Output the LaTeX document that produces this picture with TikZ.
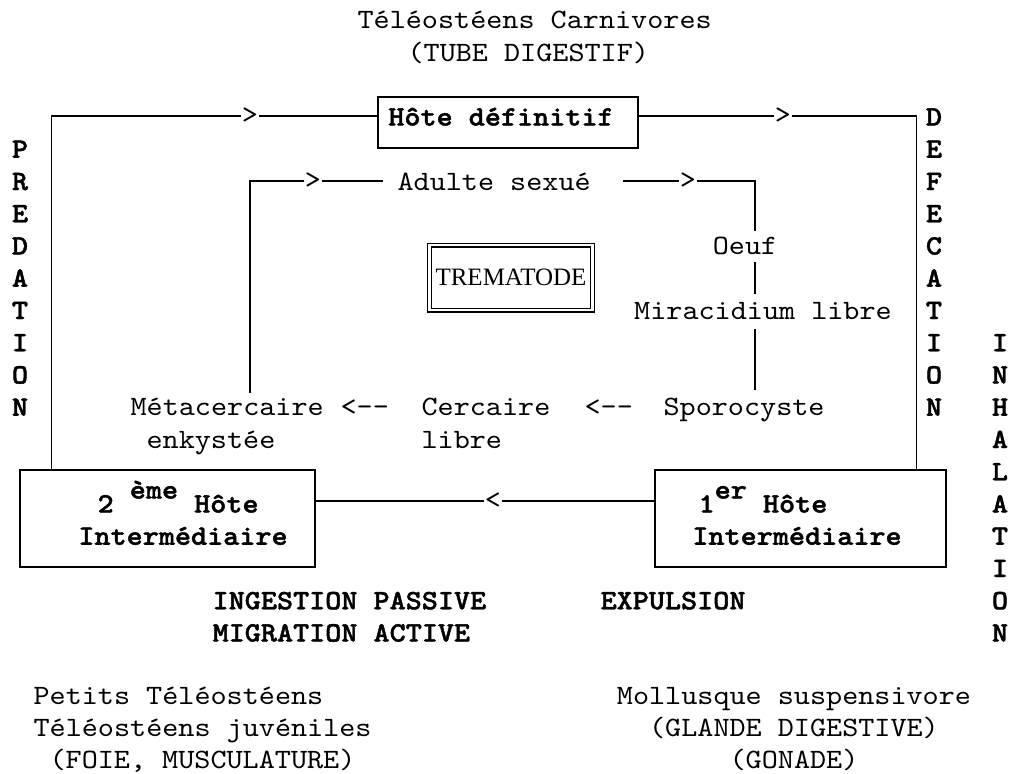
\documentclass[tikz,border=0pt]{standalone}
\usepackage{fontspec}
\setmainfont{lmmono10-regular.otf}[FakeStretch=1.095, BoldFont=lmmonolt10-bold.otf, BoldFeatures={FakeBold=1.5}]
\newfontfamily\trserif{Liberation Serif}
\newcommand\tw{\fontsize{28}{32.25}\selectfont}
\begin{document}
\begin{tikzpicture}[x=1pt,y=-1pt,line width=1.2pt,
  txt/.style={font=\tw,inner sep=0pt,anchor=base},
  btxt/.style={font=\tw\bfseries,inner sep=0pt,anchor=base},
  hostbox/.style={draw,line width=1.3pt,inner sep=0pt},
  chev/.style={font=\tw,inner sep=0pt},
  vl/.style={font=\tw\bfseries,inner sep=0pt,anchor=base}]
\useasboundingbox (0,0) rectangle (1013,774);

% vertical words
\foreach \l [count=\i] in {P,R,E,D,A,T,I,O,N}
  \node[vl] (pr\i) at (20,{125.5+32.25*\i}) {\l};
\foreach \l [count=\i from 0] in {D,E,F,E,C,A,T,I,O,N}
  \node[vl] (de\i) at (934,{125.5+32.25*\i}) {\l};
\foreach \l [count=\i from 7] in {I,N,H,A,L,A,T,I,O,N}
  \node[vl] (in\i) at (1000,{125.5+32.25*\i}) {\l};

% titles
\node[txt,anchor=base west] (t1) at (357,28.75) {Téléostéens Carnivores};
\node[txt,anchor=base west] (t2) at (407,61) {(TUBE DIGESTIF)};

% definitive host
\node[hostbox,minimum width=260pt,minimum height=51pt] (hd) at (508,122.5) {};
\node[btxt] (hdt) at (501,125.5) {Hôte définitif};

% inner cycle
\node[txt,anchor=base west] (ad) at (397,190) {Adulte sexué};
\node[draw,double,double distance=2.8pt,line width=1.1pt,minimum width=163pt,
      minimum height=65pt,inner sep=0pt,font=\trserif\fontsize{25}{28}\selectfont]
      (tr) at (511,277.5) {TREMATODE};
\node[txt] (oe) at (745,254.5) {Oeuf};
\node[txt] (mi) at (763,319) {Miracidium libre};
\node[txt,anchor=base west] (sp) at (663,415.75) {Sporocyste};
\node[txt,anchor=base west] (a2) at (584,415.75) {<-{}-};
\node[txt,anchor=base west] (ce) at (421,415.75) {Cercaire};
\node[txt,anchor=base west] (li) at (421,448) {libre};
\node[txt,anchor=base west] (a1) at (340,415.75) {<-{}-};
\node[txt,anchor=base west] (me) at (130,415.75) {Métacercaire};
\node[txt,anchor=base west] (en) at (146,448) {enkystée};

% intermediate hosts
\node[hostbox,minimum width=295pt,minimum height=97pt] (h2) at (167.5,518.5) {};
\node[btxt,anchor=base west] (h2a) at (97,512.5) {2 \raisebox{14pt}{ème} Hôte};
\node[btxt] (h2b) at (183,544.75) {Intermédiaire};
\node[hostbox,minimum width=291pt,minimum height=97pt] (h1) at (800.5,518.5) {};
\node[btxt,anchor=base west] (h1a) at (698,512.5) {1\raisebox{14pt}{er} Hôte};
\node[btxt] (h1b) at (797,544.75) {Intermédiaire};

% connectors
\coordinate (xl) at (250,0);
\coordinate (xr) at (755,0);
\node[chev] (c1) at (250,116) {>};
\draw ([yshift=6.5pt]hd.west) -- (c1.east);
\draw (c1.west) -| ([xshift=32pt]h2.north west);
\node[chev] (c2) at (783,116) {>};
\draw ([yshift=6.5pt]hd.east) -- (c2.west);
\draw (c2.east) -| ([xshift=-30pt]h1.north east);
\node[chev] (c3) at (313,181) {>};
\draw ([xshift=-14pt]ad.west |- c3) -- (c3.east);
\draw[shorten >=5pt] (c3.west) -| (me.north -| xl);
\node[chev] (c4) at (688,181) {>};
\draw ([xshift=32pt]ad.east |- c4) -- (c4.west);
\draw[shorten >=5pt] (c4.east) -| (oe.north -| xr);
\draw[shorten <=7pt,shorten >=7pt] (oe.south -| xr) -- (mi.north -| xr);
\draw[shorten <=9pt,shorten >=8pt] (mi.south -| xr) -- (sp.north -| xr);
\node[chev] (c5) at (493,501) {<};
\draw (h1.west |- c5) -- (c5.east);
\draw (c5.west) -- (h2.east |- c5);

% bottom texts
\node[btxt,anchor=base west] (ig) at (212,609.25) {INGESTION PASSIVE};
\node[btxt,anchor=base west] (mg) at (212,641.5) {MIGRATION ACTIVE};
\node[btxt,anchor=base west] (ex) at (600,609.25) {EXPULSION};
\node[txt,anchor=base west] (pt) at (33,704) {Petits Téléostéens};
\node[txt,anchor=base west] (tj) at (33,736.5) {Téléostéens juvéniles};
\node[txt,anchor=base west] (fm) at (49,768.5) {(FOIE, MUSCULATURE)};
\node[txt] (mo) at (794,704) {Mollusque suspensivore};
\node[txt] (gd) at (794,736.5) {(GLANDE DIGESTIVE)};
\node[txt] (go) at (794,768.5) {(GONADE)};
\end{tikzpicture}
\end{document}
